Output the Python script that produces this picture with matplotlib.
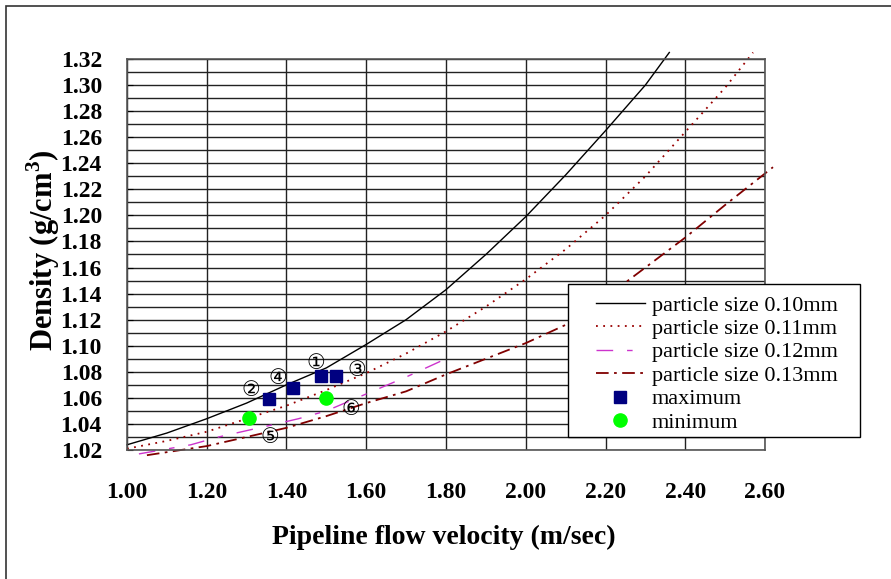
import numpy as np
import matplotlib.pyplot as plt
from matplotlib.patches import Rectangle

plt.rcParams['font.family'] = ['Liberation Serif', 'DejaVu Serif']
plt.rcParams['mathtext.fontset'] = 'custom'
plt.rcParams['mathtext.bf'] = 'Liberation Serif:bold'
plt.rcParams['mathtext.rm'] = 'Liberation Serif'

# curves (velocity m/s, density g/cm3)
x10 = [1.00, 1.10, 1.20, 1.30, 1.40, 1.50, 1.60, 1.70, 1.80, 1.90, 2.00, 2.10, 2.20, 2.30, 2.36]
y10 = [1.024, 1.033, 1.044, 1.056, 1.070, 1.083, 1.101, 1.120, 1.143, 1.170, 1.199, 1.231, 1.265, 1.300, 1.325]

x11 = [1.00, 1.10, 1.20, 1.30, 1.40, 1.50, 1.60, 1.70, 1.80, 1.90, 2.00, 2.10, 2.20, 2.30, 2.40, 2.50, 2.57]
y11 = [1.021, 1.027, 1.034, 1.044, 1.054, 1.066, 1.079, 1.094, 1.111, 1.130, 1.151, 1.174, 1.200, 1.230, 1.264, 1.298, 1.325]

x12 = [1.03, 1.16, 1.23, 1.36, 1.43, 1.50, 1.60, 1.70, 1.80]
y12 = [1.017, 1.024, 1.030, 1.039, 1.044, 1.050, 1.063, 1.076, 1.090]

x13 = [1.05, 1.20, 1.30, 1.40, 1.50, 1.60, 1.70, 1.80, 1.90, 2.00, 2.10, 2.20, 2.30, 2.40, 2.50, 2.62]
y13 = [1.016, 1.023, 1.030, 1.037, 1.046, 1.056, 1.065, 1.078, 1.090, 1.102, 1.116, 1.137, 1.160, 1.183, 1.208, 1.237]

max_x = [1.355, 1.4175, 1.4875, 1.525]
max_y = [1.059, 1.0675, 1.0767, 1.0767]
min_x = [1.305, 1.50]
min_y = [1.0445, 1.060]

tags = ['①', '②', '③', '④', '⑤', '⑥']
tag_x = [1.4725, 1.31, 1.5775, 1.3775, 1.3575, 1.5625]
tag_y = [1.0866, 1.066, 1.081, 1.075, 1.030, 1.0514]

fig = plt.figure(figsize=(8.91, 5.79), dpi=100)
ax = fig.add_axes([0.1425, 0.2228, 0.7161, 0.6753])

ax.plot(x10, y10, color='black', lw=1.0, label='particle size 0.10mm', clip_on=False)
ax.plot(x11, y11, color='#990000', lw=1.3, ls=(0, (1, 3)), label='particle size 0.11mm', clip_on=False)
ax.plot(x12, y12, color='#cc33cc', lw=1.0, ls=(0, (12, 10, 4, 10)), label='particle size 0.12mm', clip_on=False)
ax.plot(x13, y13, color='#800000', lw=1.3, ls=(0, (7, 3, 1.5, 3)), label='particle size 0.13mm', clip_on=False)
ax.plot(max_x, max_y, 's', color='#000080', ms=9, ls='none', label='maximum', zorder=5)
ax.plot(min_x, min_y, 'o', color='#00ff00', ms=9.5, ls='none', label='minimum', zorder=5)

for t, tx, ty in zip(tags, tag_x, tag_y):
    ax.text(tx, ty, t, fontsize=15, ha='center', va='center',
            family=['DejaVu Sans', 'Noto Sans CJK JP'], zorder=6)

ax.set_xlim(1.00, 2.60)
ax.set_ylim(1.02, 1.32)
ax.set_xticks(np.arange(1.00, 2.61, 0.20))
ax.set_yticks(np.arange(1.02, 1.321, 0.02))
ax.set_yticks(np.arange(1.03, 1.32, 0.02), minor=True)
ax.set_xticklabels([f'{v:.2f}' for v in np.arange(1.00, 2.61, 0.20)])
ax.set_yticklabels([f'{v:.2f}' for v in np.arange(1.02, 1.321, 0.02)])
ax.grid(True, which='major', color='#222222', lw=1.0)
ax.grid(True, which='minor', axis='y', color='#222222', lw=1.0)
ax.tick_params(axis='y', which='major', direction='in', length=4, pad=18, labelsize=17)
ax.tick_params(axis='y', which='minor', length=0)
ax.tick_params(axis='x', direction='in', length=0, pad=23, labelsize=17)
for lab in ax.get_xticklabels() + ax.get_yticklabels():
    lab.set_fontweight('bold')
for s in ax.spines.values():
    s.set_color('#555555')
    s.set_linewidth(1.2)

fig.text(0.4983, 0.0725, 'Pipeline flow velocity (m/sec)', fontsize=20, fontweight='bold',
         ha='center', va='center')
fig.text(0.049, 0.568, 'Density (g/cm$^{\\mathbf{3}}$)', fontsize=22, fontweight='bold',
         rotation=90, ha='center', va='center')

# legend box drawn separately so it can be wider than its contents
W, H = 891, 579
box = Rectangle((568 / W, 1 - 437 / H), 292 / W, 153 / H, transform=fig.transFigure,
                facecolor='white', edgecolor='black', lw=1.0, zorder=9, clip_on=False)
ax.add_artist(box)
leg = ax.legend(loc='upper left', bbox_to_anchor=(596 / W, 1 - 295 / H),
                bbox_transform=fig.transFigure, fontsize=16, frameon=False,
                borderpad=0, labelspacing=0.13, handlelength=2.2, handletextpad=0.3,
                borderaxespad=0)
leg.set_zorder(10)

fig.patches.append(Rectangle((6 / W, -0.1), 1.2, 1.1 - 6 / H, transform=fig.transFigure,
                             fill=False, edgecolor='#333333', lw=1.2))

fig.savefig('out.png', dpi=100)
